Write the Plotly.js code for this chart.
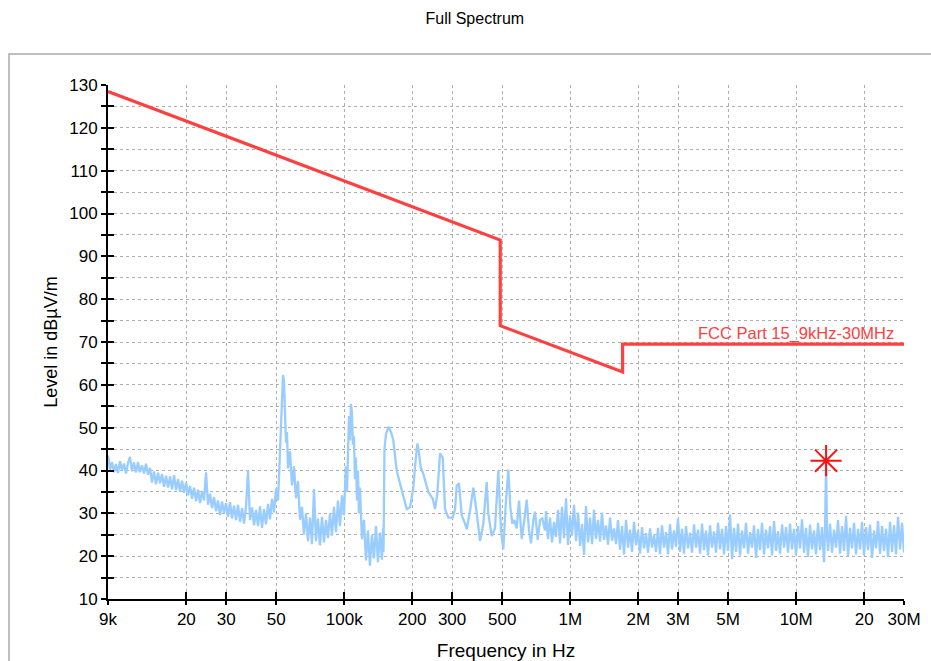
<!DOCTYPE html>
<html>
<head>
<meta charset="utf-8">
<script src="https://cdn.plot.ly/plotly-3.0.1.min.js"></script>
<style>html,body{margin:0;padding:0;background:#fff;}#chart{width:931px;height:661px;}</style>
</head>
<body>
<div id="chart"></div>
<script>
// ---------- DATA (frequencies in kHz, levels in dBµV/m) ----------
// Segment 1: broadband noise 9 kHz - 51 kHz
const seg1FreqKHz = [
  9.00, 9.19, 9.37, 9.57, 9.76, 9.97, 10.17, 10.38, 10.59, 10.81,
  11.04, 11.26, 11.50, 11.73, 11.97, 12.22, 12.47, 12.73, 12.99, 13.26,
  13.53, 13.81, 14.09, 14.38, 14.68, 14.99, 15.29, 15.61, 15.93, 16.26,
  16.60, 16.94, 17.29, 17.64, 18.01, 18.38, 18.76, 19.14, 19.54, 19.94,
  20.35, 20.77, 21.19, 21.63, 22.08, 22.53, 22.99, 23.47, 23.95, 24.44,
  24.94, 25.46, 25.98, 26.52, 27.06, 27.62, 28.19, 28.77, 29.36, 29.96,
  30.58, 31.21, 31.85, 32.51, 33.18, 33.86, 34.56, 35.27, 35.99, 36.73,
  37.49, 38.26, 39.05, 39.85, 40.67, 41.51, 42.36, 43.24, 44.13, 45.03,
  45.96, 46.91, 47.87, 48.86, 49.86, 50.89
];
const seg1Level = [
  43.5, 40.2, 42.0, 39.6, 41.5, 39.4, 42.2, 40.0, 41.6, 39.3,
  41.8, 43.2, 39.8, 41.9, 39.5, 42.0, 39.6, 41.2, 39.3, 41.6,
  39.0, 40.6, 37.2, 39.8, 36.8, 39.5, 37.0, 39.2, 36.2, 38.8,
  36.0, 38.6, 35.6, 38.9, 35.4, 38.0, 35.0, 37.6, 34.8, 37.2,
  34.2, 36.4, 33.4, 36.0, 32.8, 35.5, 32.4, 35.2, 33.0, 39.6,
  32.0, 34.6, 31.2, 33.8, 30.5, 33.0, 29.6, 32.8, 30.0, 32.4,
  29.2, 32.6, 28.8, 31.8, 28.4, 32.0, 28.0, 31.2, 27.6, 31.6,
  40.0, 28.4, 31.4, 27.2, 30.8, 27.0, 31.6, 26.6, 31.0, 27.4,
  32.2, 28.6, 33.4, 30.2, 35.8, 33.0
];
// Segment 2: peaks near 53 kHz and 107 kHz
const seg2FreqKHz = [
  51.41, 51.94, 52.47, 53.00, 53.55, 54.09, 54.65, 55.21, 55.77, 56.34,
  57.50, 58.69, 59.90, 61.13, 62.39, 63.67, 64.98, 66.32, 67.69, 69.08,
  70.50, 71.95, 73.43, 74.94, 76.49, 78.06, 79.67, 81.31, 82.98, 84.69,
  86.43, 88.21, 90.03, 91.88, 93.77, 95.70, 97.67, 99.68, 100.7, 101.7,
  102.8, 103.8, 104.9, 106.0, 107.0, 108.1, 109.2, 110.3, 111.5, 112.6,
  113.8, 114.9, 116.1, 117.3, 119.7, 122.2, 124.7, 127.3, 129.9, 132.6,
  135.3, 138.1, 140.9, 143.8, 146.8, 148.4
];
const seg2Level = [
  38.5, 44.0, 49.5, 57.0, 62.3, 61.0, 53.0, 46.5, 49.0, 40.5,
  44.5, 36.5, 41.0, 33.5, 37.5, 28.5, 31.5, 25.0, 30.0, 23.5,
  29.0, 22.8, 35.7, 23.5, 28.8, 22.5, 29.2, 23.2, 28.5, 24.2,
  30.0, 24.8, 31.5, 25.6, 33.0, 27.0, 34.2, 29.5, 36.0, 41.0,
  35.0, 45.0, 52.7, 47.0, 55.6, 53.5, 46.0, 48.0, 38.0, 43.0,
  33.0, 40.0, 30.0, 36.0, 24.0, 28.5, 19.0, 26.0, 17.8, 25.0,
  19.5, 27.0, 18.6, 25.5, 19.2, 26.5
];
// Segment 3: resonances 150 kHz - 780 kHz
const seg3FreqKHz = [
  149.1, 150.6, 153.0, 156.9, 161.0, 164.8, 170.6, 176.4, 182.5, 188.9,
  195.4, 202.1, 206.6, 210.5, 213.1, 217.8, 223.7, 235.4, 246.3, 252.1,
  258.0, 265.3, 272.7, 279.1, 288.7, 301.9, 309.1, 314.5, 321.9, 330.9,
  342.2, 348.2, 360.1, 372.4, 382.8, 398.7, 412.4, 426.9, 433.9, 449.2,
  464.6, 480.5, 493.9, 505.6, 518.1, 532.1, 543.0, 554.2, 565.6, 579.6,
  593.3, 609.9, 626.3, 641.8, 657.0, 670.5, 686.4, 698.5, 717.9, 734.9,
  752.4, 773.4
];
const seg3Level = [
  21.0, 45.0, 48.5, 50.2, 49.0, 47.0, 40.0, 37.0, 34.0, 31.0,
  31.4, 36.0, 42.0, 46.3, 45.0, 40.8, 39.2, 35.0, 33.4, 31.0,
  34.5, 44.0, 43.0, 31.0, 29.0, 29.0, 31.0, 36.5, 37.0, 29.5,
  27.6, 26.3, 30.6, 36.0, 31.4, 23.6, 27.6, 37.3, 30.0, 24.7,
  26.5, 40.0, 26.0, 21.6, 32.0, 40.2, 31.5, 27.6, 28.4, 26.5,
  33.0, 24.0, 28.4, 33.2, 26.0, 23.0, 28.4, 30.4, 23.8, 28.4,
  28.8, 26.0
];
// Segment 4: broadband noise 780 kHz - 30 MHz (with 13.56 MHz spike)
const seg4FreqKHz = [
  781.2, 797.3, 813.7, 830.5, 847.6, 865.0, 882.9, 901.1, 919.6, 938.5,
  957.9, 977.6, 997.7, 1018, 1039, 1061, 1083, 1105, 1128, 1151,
  1174, 1199, 1223, 1249, 1274, 1300, 1327, 1355, 1382, 1411,
  1440, 1470, 1500, 1531, 1562, 1595, 1627, 1661, 1695, 1730,
  1766, 1802, 1839, 1877, 1915, 1955, 1995, 2036, 2078, 2121,
  2165, 2209, 2255, 2301, 2349, 2397, 2446, 2497, 2548, 2601,
  2654, 2709, 2764, 2821, 2879, 2939, 2999, 3061, 3124, 3188,
  3254, 3321, 3389, 3459, 3530, 3603, 3677, 3753, 3830, 3909,
  3990, 4072, 4156, 4241, 4329, 4418, 4509, 4602, 4696, 4793,
  4892, 4992, 5095, 5200, 5307, 5416, 5528, 5642, 5758, 5876,
  5997, 6121, 6247, 6376, 6507, 6641, 6778, 6917, 7060, 7205,
  7353, 7505, 7659, 7817, 7978, 8142, 8310, 8481, 8656, 8834,
  9016, 9201, 9391, 9584, 9782, 9983, 10188, 10398, 10612, 10830,
  11053, 11281, 11513, 11750, 11992, 12239, 12492, 12749, 13012, 13280,
  13416, 13560, 13692, 13832, 14117, 14408, 14704, 15007, 15316, 15632,
  15954, 16282, 16617, 16959, 17309, 17665, 18029, 18400, 18778, 19165,
  19560, 19962, 20374, 20793, 21221, 21658, 22104, 22560, 23024, 23498,
  23982, 24476, 24980, 25494, 26019, 26555, 27101, 27659, 28229, 28810,
  29404, 30000
];
const seg4Level = [
  30.5, 24.0, 29.0, 23.2, 28.0, 24.5, 30.8, 23.0, 31.5, 24.2,
  33.5, 22.6, 29.5, 24.8, 32.0, 23.5, 30.2, 22.4, 27.5, 20.3,
  31.7, 23.2, 29.0, 22.8, 30.8, 24.0, 28.5, 23.4, 30.2, 23.8,
  27.2, 22.7, 29.0, 23.6, 26.5, 22.8, 28.4, 21.5, 27.0, 20.4,
  28.5, 22.0, 26.2, 21.0, 28.0, 22.5, 26.0, 20.6, 26.8, 21.8,
  25.4, 20.8, 26.5, 22.0, 25.0, 21.0, 26.6, 20.5, 27.2, 22.0,
  25.6, 20.4, 27.5, 21.6, 26.0, 22.2, 28.8, 21.0, 26.4, 20.6,
  27.0, 21.8, 25.5, 20.8, 27.4, 22.0, 26.2, 20.6, 27.6, 21.4,
  26.0, 20.2, 27.2, 22.0, 25.8, 20.8, 27.8, 21.6, 26.4, 20.4,
  27.0, 21.2, 29.8, 19.3, 26.6, 21.0, 27.6, 20.2, 26.0, 21.8,
  27.8, 20.6, 25.6, 22.0, 27.2, 19.6, 26.4, 21.4, 27.8, 20.4,
  26.2, 21.8, 27.0, 20.2, 28.2, 21.2, 25.8, 20.6, 27.4, 22.0,
  26.8, 20.8, 27.6, 21.6, 26.4, 20.2, 27.0, 21.8, 28.6, 20.8,
  26.6, 19.8, 27.4, 21.6, 26.0, 20.4, 27.8, 21.4, 26.8, 18.6,
  26.0, 42.1, 25.0, 21.2, 27.6, 20.8, 26.2, 22.0, 28.4, 20.6,
  27.0, 21.2, 29.4, 20.0, 26.6, 21.8, 27.8, 20.4, 26.4, 21.6,
  28.0, 20.2, 26.8, 21.4, 27.4, 19.6, 26.0, 21.8, 28.2, 20.6,
  27.0, 21.2, 26.4, 19.8, 28.0, 21.0, 27.2, 20.4, 29.2, 21.6,
  27.8, 20.8
];
// FCC Part 15 limit line
const limitFreqKHz = [9, 490, 490, 1705, 1705, 30000];
const limitLevel   = [128.5, 93.8, 73.8, 63.0, 69.5, 69.5];
const limitName = 'FCC Part 15_9kHz-30MHz';
// Final measurement marker
const markerFreqKHz = [13560];
const markerLevel   = [42.3];
// Axis ticks
const xTickHz   = [9e3, 2e4, 3e4, 5e4, 1e5, 2e5, 3e5, 5e5, 1e6, 2e6, 3e6, 5e6, 1e7, 2e7, 3e7];
const xTickText = ['9k','20','30','50','100k','200','300','500','1M','2M','3M','5M','10M','20','30M'];
const yTickVals = [10,15,20,25,30,35,40,45,50,55,60,65,70,75,80,85,90,95,100,105,110,115,120,125,130];
const yTickText = ['10','','20','','30','','40','','50','','60','','70','','80','','90','','100','','110','','120','','130'];

// ---------- BUILD ----------
const FONT = '"Liberation Sans", Arial, Helvetica, sans-serif';
const toHz = a => a.map(v => v * 1000);
const specFreq = toHz([].concat(seg1FreqKHz, seg2FreqKHz, seg3FreqKHz, seg4FreqKHz));
const specLevel = [].concat(seg1Level, seg2Level, seg3Level, seg4Level);
const xRange = [Math.log10(9000) - 1e-7, Math.log10(3e7) + 1e-7];

const traces = [
  { x: specFreq, y: specLevel, type: 'scatter', mode: 'lines', name: 'Spectrum',
    line: { color: 'rgb(153,204,255)', width: 2.3 }, hoverinfo: 'skip' },
  { x: toHz(limitFreqKHz), y: limitLevel, type: 'scatter', mode: 'lines', name: limitName,
    line: { color: 'rgb(255,64,64)', width: 3.2 }, hoverinfo: 'skip' },
  { x: toHz(markerFreqKHz), y: markerLevel, type: 'scatter', mode: 'markers', name: 'Final',
    xaxis: 'x2', yaxis: 'y2',
    marker: { symbol: 'asterisk', size: 26, color: 'rgb(255,0,0)', line: { color: 'rgb(255,16,16)', width: 2 } },
    hoverinfo: 'skip' }
];

const gridCol = 'rgb(175,175,175)';
const layout = {
  width: 931, height: 661,
  margin: { l: 108, r: 27, t: 85, b: 62, pad: 0 },
  paper_bgcolor: '#fff', plot_bgcolor: '#fff',
  showlegend: false,
  font: { family: FONT, size: 17, color: '#000' },
  title: { text: 'Full Spectrum', x: 0.51, xanchor: 'center', y: 1 - 18 / 661, yanchor: 'middle',
           font: { family: FONT, size: 16, color: '#000' } },
  xaxis: {
    type: 'log', range: xRange, tickmode: 'array', tickvals: xTickHz, ticktext: xTickText,
    ticks: 'outside', ticklen: 4, tickwidth: 2, tickcolor: '#000',
    showline: true, linecolor: '#000', linewidth: 2,
    showgrid: true, gridcolor: gridCol, griddash: 'dot', gridwidth: 1, zeroline: false,
    tickfont: { size: 17 },
    title: { text: 'Frequency in Hz', font: { size: 19 } }
  },
  yaxis: {
    range: [10, 130], tickmode: 'array', tickvals: yTickVals, ticktext: yTickText,
    ticks: 'outside', ticklen: 5, tickwidth: 2, tickcolor: '#000',
    showline: true, linecolor: '#000', linewidth: 2,
    showgrid: true, gridcolor: gridCol, griddash: 'dot', gridwidth: 1, zeroline: false,
    tickfont: { size: 17 },
    title: { text: 'Level in dBµV/m', font: { size: 18 }, standoff: 7 }
  },
  xaxis2: {
    type: 'log', range: xRange, overlaying: 'x', anchor: 'y2', side: 'bottom',
    tickmode: 'array', tickvals: xTickHz, ticks: 'inside', ticklen: 7, tickwidth: 2, tickcolor: '#000',
    showticklabels: false, showgrid: false, showline: false, zeroline: false
  },
  yaxis2: {
    range: [10, 130], overlaying: 'y', anchor: 'x2', side: 'left',
    tickmode: 'array', tickvals: yTickVals, ticks: 'inside', ticklen: 6, tickwidth: 2, tickcolor: '#000',
    showticklabels: false, showgrid: false, showline: false, zeroline: false
  },
  annotations: [{
    text: limitName, xref: 'paper', x: (896 - 108) / 796, xanchor: 'right',
    yref: 'y', y: limitLevel[limitLevel.length - 1], yanchor: 'bottom', yshift: -1,
    showarrow: false, font: { family: FONT, size: 16.5, color: 'rgb(255,64,64)' }
  }],
  shapes: [{
    type: 'rect', xref: 'paper', yref: 'paper',
    x0: (9 - 108) / 796, x1: (945 - 108) / 796, y0: (599 - 680) / 514, y1: (599 - 54) / 514,
    line: { color: 'rgb(170,170,170)', width: 1.5 }, fillcolor: 'rgba(0,0,0,0)', layer: 'below'
  }]
};

Plotly.newPlot('chart', traces, layout, { staticPlot: true, displayModeBar: false });
</script>
</body>
</html>
